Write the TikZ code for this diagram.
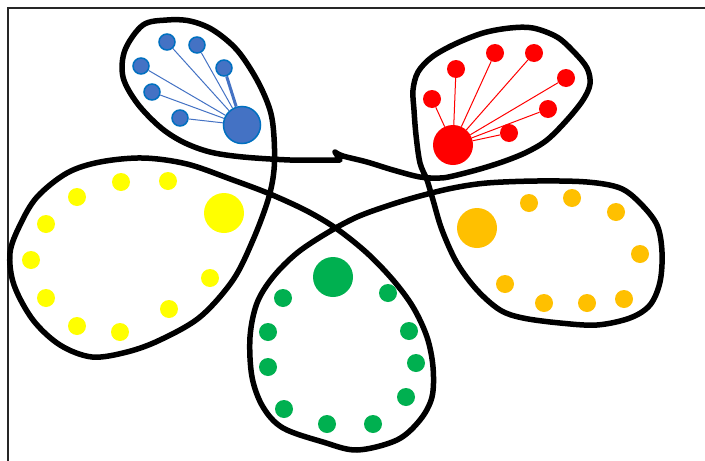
\documentclass[tikz,border=0pt]{standalone}
\definecolor{bfill}{HTML}{4472C4}
\definecolor{bedge}{HTML}{0070C0}
\definecolor{rcol}{HTML}{FF0000}
\definecolor{ycol}{HTML}{FFFF00}
\definecolor{gcol}{HTML}{00B050}
\definecolor{ocol}{HTML}{FFC000}
\begin{document}
\begin{tikzpicture}[x=1pt,y=-1pt,
  dot/.style={circle,inner sep=0pt,minimum size=18pt,draw=none},
  bigdot/.style={circle,inner sep=0pt,minimum size=40pt,draw=none},
  bsmall/.style={circle,inner sep=0pt,minimum size=16pt,fill=bfill,draw=bedge,line width=1.5pt},
  bbig/.style={circle,inner sep=0pt,minimum size=37pt,fill=bfill,draw=bedge,line width=1.5pt},
  bline/.style={draw=bfill,line width=1pt},
  rline/.style={draw=rcol,line width=1pt},
  outline/.style={line width=5.5pt,line cap=round,line join=round},
  frame/.style={line width=2pt,black!85}]
\useasboundingbox (0,0) rectangle (705,461);
\fill[white] (0,0) rectangle (705,461);
\draw[frame] (8,470) -- (8,8) -- (715,8);

% big black flower curve
\draw[outline] plot[smooth,tension=0.55] coordinates {
 (340,160) (320,160) (290,160) (243,157) (210,152) (183,142) (160,127) (137,103)
 (123,77) (125,50) (143,25) (167,20) (190,21) (213,30) (237,50) (257,80) (270,110)
 (274,137) (274,170) (268,200) (253,240) (233,280) (200,317) (160,340) (127,352)
 (92,357) (60,345) (33,320) (14,285) (10,253) (20,225) (37,197) (67,173) (100,162)
 (143,158) (187,164) (233,180) (270,194) (307,211) (337,229) (367,253) (393,280)
 (413,307) (427,337) (433,367) (432,397) (420,420) (397,440) (357,450) (323,442)
 (283,428) (263,407) (252,377) (250,337) (257,303) (273,277) (297,253) (327,233)
 (357,217) (390,205) (420,196) (453,188) (487,183) (537,181) (587,182) (620,188)
 (640,203) (657,225) (662,252) (660,282) (650,305) (630,318) (597,325) (560,323)
 (523,318) (500,310) (477,290) (457,263) (442,230) (433,200) (427,180) (420,163)
 (416,135) (414,110) (413,90) (418,72) (432,57) (455,44) (483,33) (510,28) (533,28)
 (557,37) (574,52) (587,68) (590,84) (583,100) (567,120) (547,140) (527,152)
 (505,161) (480,169) (453,176) (440,178) (420,177) (393,170) (367,162) (343,156)
 (335,152)} -- cycle;

% blue petal
\node[bbig] (b0) at (242,125) {};
\node[bsmall] (b1) at (167,42) {};
\node[bsmall] (b2) at (197,45) {};
\node[bsmall] (b3) at (224,68) {};
\node[bsmall] (b4) at (141,66) {};
\node[bsmall] (b5) at (152,92) {};
\node[bsmall] (b6) at (180,118) {};
\draw[bline] (b0) -- (b1);
\draw[bline] (b0) -- (b2);
\draw[bfill,line width=3pt] (b0) -- (b3);
\draw[bline] (b0) -- (b4);
\draw[bline] (b0) -- (b5);
\draw[bline] (b0) -- (b6);

% red petal
\node[bigdot,fill=rcol] (r0) at (453,145) {};
\node[dot,fill=rcol] (r1) at (432,99) {};
\node[dot,fill=rcol] (r2) at (456,69) {};
\node[dot,fill=rcol] (r3) at (495,53) {};
\node[dot,fill=rcol] (r4) at (534,53) {};
\node[dot,fill=rcol] (r5) at (566,78) {};
\node[dot,fill=rcol] (r6) at (548,109) {};
\node[dot,fill=rcol] (r7) at (509,133) {};
\foreach \i in {1,...,7} { \draw[rline] (r0) -- (r\i); }

% yellow petal
\node[bigdot,fill=ycol] (y0) at (224,213) {};
\foreach \p [count=\i] in {(121,182),(168,181),(77,197),(46,224),(31,260),(46,298),(77,326),(120,332),(169,309),(210,278)}
  { \node[dot,fill=ycol] (y\i) at \p {}; }

% green petal
\node[bigdot,fill=gcol] (g0) at (333,277) {};
\foreach \p [count=\i] in {(283,298),(268,332),(268,367),(284,409),(327,424),(373,424),(406,397),(416,363),(409,331),(388,293)}
  { \node[dot,fill=gcol] (g\i) at \p {}; }

% orange petal
\node[bigdot,fill=ocol] (o0) at (477,228) {};
\foreach \p [count=\i] in {(529,203),(572,198),(616,212),(640,254),(624,299),(587,303),(544,303),(505,284)}
  { \node[dot,fill=ocol] (o\i) at \p {}; }
\end{tikzpicture}
\end{document}
